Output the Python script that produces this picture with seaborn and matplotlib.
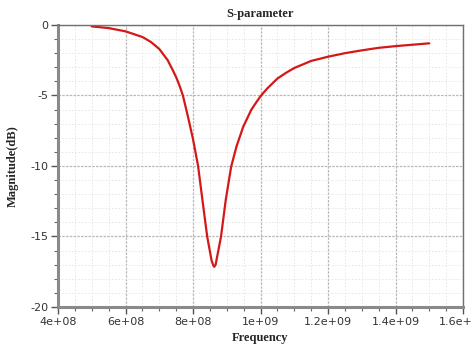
import numpy as np
import pandas as pd
import matplotlib
matplotlib.use("Agg")
import matplotlib.pyplot as plt
import matplotlib.ticker as mticker
import seaborn as sns

# Values (frequency in units of 1e8 Hz, magnitude in dB)
freq_e8 = [5.0, 5.5, 6.0, 6.5, 6.75, 7.0, 7.25, 7.4, 7.5, 7.6, 7.7, 7.85, 8.0, 8.15,
           8.3, 8.42, 8.55, 8.6, 8.63, 8.67, 8.75, 8.83, 8.97, 9.13, 9.29, 9.49, 9.73,
           9.87, 10.0, 10.2, 10.5, 10.75, 11.0, 11.5, 12.0, 12.5, 13.0, 13.5, 14.0, 14.5, 15.0]
magnitude_db = [-0.1, -0.22, -0.45, -0.85, -1.2, -1.7, -2.5, -3.2, -3.7, -4.3, -5.0, -6.5, -8.1, -10.0,
                -12.8, -15.0, -16.7, -17.05, -17.15, -17.0, -16.0, -15.0, -12.4, -10.05, -8.6, -7.2, -6.0,
                -5.5, -5.05, -4.5, -3.8, -3.4, -3.05, -2.55, -2.25, -2.0, -1.8, -1.62, -1.5, -1.4, -1.3]

df = pd.DataFrame({"Frequency": np.array(freq_e8) * 1e8, "Magnitude": magnitude_db})


def sci_fmt(v, pos):
    mant, exp = ("%.1e" % v).split("e")
    if mant.endswith(".0"):
        mant = mant[:-2]
    return mant + "e" + exp


sns.set_style("white")
fig = plt.figure(figsize=(4.72, 3.51), dpi=100)
ax = fig.add_axes([0.1229, 0.1254, 0.8581, 0.8034])

sns.lineplot(x="Frequency", y="Magnitude", data=df, color="#d41818", linewidth=1.6, ax=ax)

ax.set_xlim(4e8, 1.6e9)
ax.set_ylim(-20, 0)
ax.xaxis.set_major_locator(mticker.MultipleLocator(2e8))
ax.xaxis.set_minor_locator(mticker.MultipleLocator(0.5e8))
ax.yaxis.set_major_locator(mticker.MultipleLocator(5))
ax.yaxis.set_minor_locator(mticker.MultipleLocator(1))
ax.xaxis.set_major_formatter(mticker.FuncFormatter(sci_fmt))
ax.yaxis.set_major_formatter(mticker.FuncFormatter(lambda v, p: "%d" % v))

# grid
ax.grid(True, which="major", color="#b8b8b8", linestyle=(0, (2, 1)), linewidth=0.9)
ax.grid(True, which="minor", color="#e4e4e4", linestyle=(0, (2, 2)), linewidth=0.6)
ax.set_axisbelow(True)

for side in ["left", "bottom"]:
    ax.spines[side].set_color("#8a8a8a")
    ax.spines[side].set_linewidth(2.2)
for side in ["top", "right"]:
    ax.spines[side].set_color("#707070")
    ax.spines[side].set_linewidth(1.0)

ax.tick_params(which="major", direction="out", length=5, width=1.0, color="#555555",
               labelsize=8, labelcolor="#333333", pad=2)
ax.tick_params(which="minor", direction="out", length=3, width=0.8, color="#666666")
ax.tick_params(axis="x", which="both", bottom=True)
ax.tick_params(axis="y", which="both", left=True)

ax.set_title("S-parameter", fontsize=9, fontweight="bold", family="Liberation Serif", pad=6)
ax.set_xlabel("Frequency", fontsize=9, fontweight="bold", family="Liberation Serif", labelpad=4)
ax.set_ylabel("Magnitude(dB)", fontsize=9, fontweight="bold", family="Liberation Serif", labelpad=8)

plt.savefig("out.png", dpi=100)
